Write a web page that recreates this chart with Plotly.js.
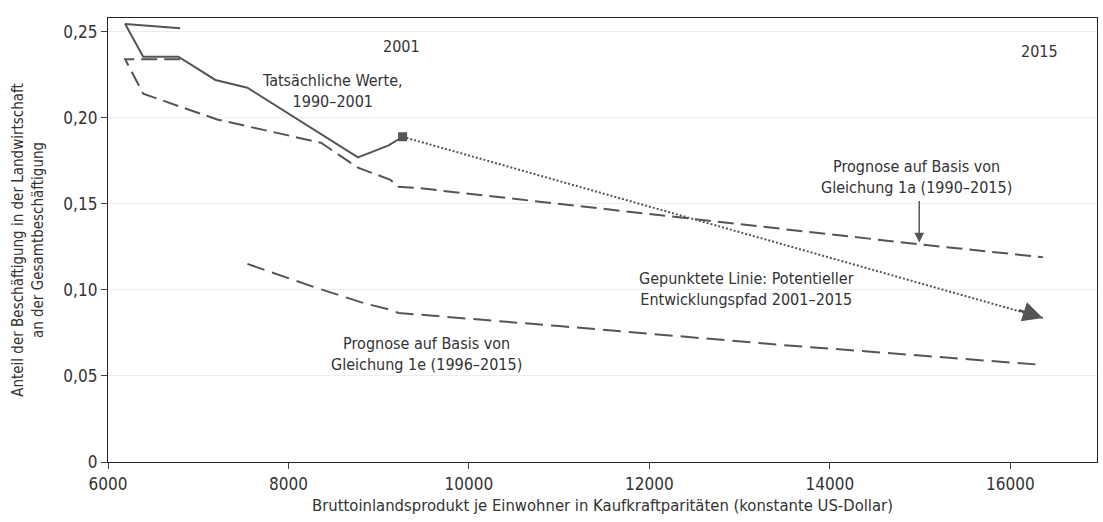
<!DOCTYPE html>
<html><head><meta charset="utf-8">
<script src="https://cdn.plot.ly/plotly-3.0.1.min.js"></script>
<style>body{margin:0;background:#fff}#chart{width:1103px;height:522px}</style>
</head><body><div id="chart"></div>
<script>
// Actual values 1990-2001 (GDP per capita PPP, agricultural employment share)
const actualX = [6800, 6190, 6390, 6780, 7190, 7545, 8770, 9110, 9265];
const actualY = [0.252, 0.2545, 0.2355, 0.2355, 0.222, 0.2175, 0.177, 0.184, 0.189];
// Forecast based on equation 1a (1990-2015)
const fc1aX = [6800, 6190, 6390, 7210, 8360, 8770, 9130, 9210, 9470, 12000, 14990, 16360];
const fc1aY = [0.234, 0.234, 0.214, 0.199, 0.1855, 0.171, 0.164, 0.160, 0.159, 0.144, 0.1265, 0.119];
// Forecast based on equation 1e (1996-2015)
const fc1eX = [7545, 8280, 8830, 9130, 9220, 11000, 13470, 16360];
const fc1eY = [0.1151, 0.1017, 0.0924, 0.0884, 0.0866, 0.079, 0.068, 0.0564];
// Dotted potential development path 2001-2015
const pathX = [9265, 16360];
const pathY = [0.189, 0.0837];

const yTickVals = [0, 0.05, 0.10, 0.15, 0.20, 0.25];
const yTickText = ['0', '0,05', '0,10', '0,15', '0,20', '0,25'];
const xTickVals = [6000, 8000, 10000, 12000, 14000, 16000];
const xTickText = ['6000', '8000', '10000', '12000', '14000', '16000'];

const FONT = 'DejaVu Sans Condensed, Noto Sans, sans-serif';
const C = '#555';

const traces = [
  {x: fc1aX, y: fc1aY, mode: 'lines', line: {color: C, width: 2, dash: '16px,7px'}, hoverinfo: 'skip'},
  {x: fc1eX, y: fc1eY, mode: 'lines', line: {color: C, width: 2, dash: '18px,8px'}, hoverinfo: 'skip'},
  {x: pathX, y: pathY, mode: 'lines', line: {color: C, width: 2, dash: '2px,2px'}, hoverinfo: 'skip'},
  {x: actualX, y: actualY, mode: 'lines', line: {color: C, width: 2}, hoverinfo: 'skip'},
  {x: [actualX[actualX.length-1]], y: [actualY[actualY.length-1]], mode: 'markers',
   marker: {symbol: 'square', size: 9, color: C}, hoverinfo: 'skip'}
];

const tf = {family: FONT, size: 16, color: '#333'};
const layout = {
  width: 1103, height: 522,
  margin: {l: 108, r: 6, t: 18, b: 60},
  paper_bgcolor: '#fff', plot_bgcolor: '#fff',
  showlegend: false,
  font: {family: FONT, size: 16, color: '#333'},
  xaxis: {
    range: [6000, 16960], tickvals: xTickVals, ticktext: xTickText,
    showgrid: false, zeroline: false, showline: true, mirror: true,
    linecolor: '#222', linewidth: 1.2, ticks: 'outside', ticklen: 6, tickcolor: '#444',
    tickfont: {family: FONT, size: 17, color: '#333'},
    title: {text: 'Bruttoinlandsprodukt je Einwohner in Kaufkraftparitäten (konstante US-Dollar)',
            font: {family: FONT, size: 16.5, color: '#333'}, standoff: 6}
  },
  yaxis: {
    range: [0, 0.258], tickvals: yTickVals, ticktext: yTickText,
    showgrid: true, gridcolor: '#ececec', gridwidth: 1, zeroline: false,
    showline: true, mirror: true, linecolor: '#222', linewidth: 1.2,
    ticks: 'outside', ticklen: 6, tickcolor: '#444',
    tickfont: {family: FONT, size: 17, color: '#333'},
    title: {text: 'Anteil der Beschäftigung in der Landwirtschaft<br>an der Gesamtbeschäftigung',
            font: {family: FONT, size: 15, color: '#333'}, standoff: 16}
  },
  annotations: [
    {x: 9250, y: 0.2415, text: '2001', showarrow: false, font: tf},
    {x: 16320, y: 0.2385, text: '2015', showarrow: false, font: tf},
    {x: 8490, y: 0.2157, text: 'Tatsächliche Werte,<br>1990–2001', showarrow: false, font: tf},
    {x: 14960, y: 0.1655, text: 'Prognose auf Basis von<br>Gleichung 1a (1990–2015)', showarrow: false, font: tf},
    {x: 14990, y: 0.1275, ax: 14990, ay: 0.1525, axref: 'x', ayref: 'y', text: '', showarrow: true,
     arrowhead: 2, arrowsize: 1.3, arrowwidth: 1.5, arrowcolor: C},
    {x: 13080, y: 0.1006, text: 'Gepunktete Linie: Potentieller<br>Entwicklungspfad 2001–2015', showarrow: false, font: tf},
    {x: 9530, y: 0.0625, text: 'Prognose auf Basis von<br>Gleichung 1e (1996–2015)', showarrow: false, font: tf},
    {x: pathX[1], y: pathY[1], ax: 16080, ay: 0.0885, axref: 'x', ayref: 'y', text: '', showarrow: true,
     arrowhead: 2, arrowsize: 1.6, arrowwidth: 2.5, arrowcolor: C}
  ]
};
Plotly.newPlot('chart', traces, layout, {staticPlot: true});
</script></body></html>
